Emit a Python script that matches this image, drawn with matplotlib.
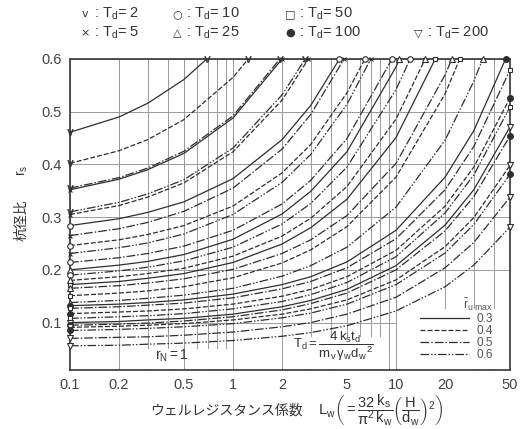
import numpy as np
import matplotlib.pyplot as plt
from matplotlib.lines import Line2D
from matplotlib.patches import Rectangle
from matplotlib.ticker import LogLocator, NullFormatter

plt.rcParams['font.family'] = ['Liberation Sans', 'Noto Sans CJK JP', 'DejaVu Sans']
plt.rcParams['mathtext.fontset'] = 'custom'
plt.rcParams['mathtext.rm'] = 'Liberation Sans'
plt.rcParams['mathtext.it'] = 'Liberation Sans'
plt.rcParams['mathtext.bf'] = 'Liberation Sans:bold'

# well resistance factor Lw where the curves are read
L_grid = [0.1, 0.2, 0.3, 0.5, 1, 2, 3, 5, 10, 20, 30, 50]

# time factor Td and allowed max excess pore pressure ratio for each curve
td = [2, 2, 2, 5, 2, 5, 10, 5, 10, 5, 10, 25, 10, 25, 50, 25, 50, 25, 100, 50,
      100, 50, 200, 100, 200, 100, 200, 200]
ru_max = [0.3, 0.4, 0.5, 0.3, 0.6, 0.4, 0.3, 0.5, 0.4, 0.6, 0.5, 0.3, 0.6, 0.4,
          0.3, 0.5, 0.4, 0.6, 0.3, 0.5, 0.4, 0.6, 0.3, 0.5, 0.4, 0.6, 0.5, 0.6]

# rs read on L_grid (row stops where the curve leaves the chart)
rs = [
    [0.461, 0.490, 0.516, 0.561],
    [0.402, 0.426, 0.447, 0.485, 0.565],
    [0.355, 0.375, 0.393, 0.425, 0.492],
    [0.352, 0.372, 0.390, 0.421, 0.488],
    [0.310, 0.328, 0.344, 0.371, 0.431, 0.532],
    [0.305, 0.322, 0.338, 0.365, 0.424, 0.522],
    [0.284, 0.297, 0.309, 0.329, 0.373, 0.447, 0.512],
    [0.265, 0.278, 0.290, 0.311, 0.355, 0.429, 0.495],
    [0.246, 0.257, 0.267, 0.284, 0.321, 0.384, 0.438, 0.536],
    [0.231, 0.242, 0.251, 0.268, 0.305, 0.366, 0.419, 0.514],
    [0.214, 0.223, 0.231, 0.245, 0.275, 0.325, 0.370, 0.449],
    [0.200, 0.209, 0.216, 0.229, 0.258, 0.306, 0.349, 0.424, 0.585],
    [0.190, 0.198, 0.205, 0.217, 0.243, 0.287, 0.326, 0.395, 0.542],
    [0.180, 0.187, 0.193, 0.203, 0.226, 0.264, 0.298, 0.358, 0.486],
    [0.172, 0.178, 0.184, 0.193, 0.214, 0.249, 0.280, 0.334, 0.451],
    [0.165, 0.170, 0.175, 0.183, 0.201, 0.231, 0.257, 0.303, 0.402, 0.570],
    [0.151, 0.156, 0.160, 0.168, 0.185, 0.213, 0.238, 0.282, 0.376, 0.534],
    [0.138, 0.142, 0.146, 0.152, 0.165, 0.188, 0.208, 0.243, 0.319, 0.446, 0.558],
    [0.132, 0.135, 0.138, 0.143, 0.154, 0.172, 0.187, 0.215, 0.275, 0.376, 0.464],
    [0.127, 0.130, 0.133, 0.137, 0.147, 0.164, 0.178, 0.204, 0.259, 0.352, 0.434, 0.579],
    [0.117, 0.120, 0.122, 0.126, 0.135, 0.150, 0.163, 0.187, 0.237, 0.321, 0.395, 0.526],
    [0.108, 0.111, 0.113, 0.117, 0.126, 0.140, 0.153, 0.176, 0.225, 0.308, 0.380, 0.509],
    [0.100, 0.102, 0.105, 0.108, 0.116, 0.130, 0.142, 0.163, 0.208, 0.285, 0.352, 0.471],
    [0.095, 0.097, 0.099, 0.103, 0.111, 0.124, 0.136, 0.156, 0.200, 0.274, 0.339, 0.454],
    [0.091, 0.093, 0.095, 0.098, 0.105, 0.116, 0.126, 0.143, 0.181, 0.244, 0.299, 0.398],
    [0.085, 0.087, 0.089, 0.092, 0.098, 0.109, 0.118, 0.135, 0.172, 0.232, 0.286, 0.381],
    [0.070, 0.072, 0.073, 0.076, 0.082, 0.092, 0.100, 0.116, 0.148, 0.204, 0.252, 0.338],
    [0.056, 0.057, 0.059, 0.061, 0.066, 0.074, 0.081, 0.094, 0.122, 0.168, 0.209, 0.281],
]
# Lw where the curve reaches rs = 0.6 (None: runs out at the right edge)
L_top = [0.69, 1.24, 1.94, 2.0, 2.77, 2.9, 4.5, 4.8, 6.45, 7.0, 9.45, 10.5, 12.2,
         15.1, 17.4, 22, 24.6, 34, 47] + [None] * 9

td_list = [2, 5, 10, 25, 50, 100, 200]
td_symbols = ['v', '×', '○', '△', '□', '●', '▽']
ru_list = [0.3, 0.4, 0.5, 0.6]

ink = '#2e2e2e'
styles = {0.3: '-', 0.4: (0, (4, 1.6)), 0.5: (0, (7, 1.6, 1.2, 1.6)),
          0.6: (0, (7, 1.5, 1.2, 1.5, 1.2, 1.5))}
marks = {2: dict(marker=r'$\mathrm{v}$', ms=4.5, mew=0.3),
         5: dict(marker='x', ms=3.5, mew=0.8),
         10: dict(marker='o', ms=4, mfc='white', mew=0.8),
         25: dict(marker='^', ms=4, mfc='white', mew=0.8),
         50: dict(marker='s', ms=3.5, mfc='white', mew=0.8),
         100: dict(marker='o', ms=4, mfc=ink),
         200: dict(marker='v', ms=4, mfc='white', mew=0.8)}

fig = plt.figure(figsize=(5.22, 4.29), dpi=100)
ax = fig.add_axes([0.134, 0.1375, 0.843, 0.725])
ax.set_xscale('log')
ax.set_xlim(0.1, 50)
ax.set_ylim(0.01, 0.6)

for i in range(len(rs)):
    xs = L_grid[:len(rs[i])]
    ys = list(rs[i])
    if L_top[i] is not None:
        xs = xs + [L_top[i]]
        ys = ys + [0.6]
    ax.plot(xs, ys, color=ink, lw=0.9, ls=styles[ru_max[i]], zorder=3)
    ax.plot([xs[0], xs[-1]], [ys[0], ys[-1]], ls='none', mec=ink, color=ink,
            clip_on=False, zorder=4, **marks[td[i]])

# grid
ax.set_xticks([0.1, 0.2, 0.5, 1, 2, 5, 10, 20, 50])
ax.set_xticklabels(['0.1', '0.2', '0.5', '1', '2', '5', '10', '20', '50'])
ax.xaxis.set_minor_locator(LogLocator(subs=np.arange(2, 10)))
ax.xaxis.set_minor_formatter(NullFormatter())
ax.set_yticks([0.1, 0.2, 0.3, 0.4, 0.5, 0.6])
ax.set_yticklabels(['0.1', '0.2', '0.3', '0.4', '0.5', '0.6'])
ax.grid(which='both', axis='x', color='#9a9a9a', lw=0.7)
ax.grid(which='major', axis='y', color='#9a9a9a', lw=0.7)
ax.set_axisbelow(True)
ax.tick_params(which='both', direction='in', colors='#444444', labelsize=10.5)
ax.tick_params(which='major', length=0, pad=6)
ax.tick_params(which='minor', length=4)
for s in ax.spines.values():
    s.set_color('#444444')
    s.set_linewidth(1.3)

# blank areas for the notes
ax.add_patch(Rectangle((0.1, 0.01), 9.9, 0.04, fc='white', ec='none', zorder=1))
ax.add_patch(Rectangle((2, 0.01), 7.1, 0.063, fc='white', ec='none', zorder=1))
ax.add_patch(Rectangle((10, 0.01), 40, 0.115, fc='white', ec='none', zorder=1))
for xv in [0.2, 0.5, 1, 2, 9, 10]:
    ax.axvline(xv, color='#9a9a9a', lw=0.7, zorder=1.2)

handles = [Line2D([], [], color=ink, lw=0.9, ls=styles[r]) for r in ru_list]
leg = ax.legend(handles, [str(r) for r in ru_list], loc='lower right',
                bbox_to_anchor=(0.985, -0.005), frameon=False, fontsize=8.5,
                labelspacing=0.0, handlelength=4.2, handletextpad=0.6,
                title=r'$\bar{\mathrm{r}}_{\mathrm{u\;max}}$', title_fontsize=9)
leg._legend_box.align = 'right'
leg.get_title().set_color('#555555')
for t in leg.get_texts():
    t.set_color('#555555')

ax.text(0.232, 0.045, r'$\mathrm{r_N}=1$', transform=ax.transAxes, fontsize=10,
        ha='center', va='center', color='#333333')
ax.text(0.6, 0.075, r'$\mathrm{T_d}=\dfrac{4\,\mathrm{k_s t_d}}{\mathrm{m_v}\,\gamma_{\mathrm{w}}\mathrm{d_w}^{\,2}}$',
        transform=ax.transAxes, fontsize=9.5, ha='center', va='center', color='#333333')

# Td symbol key above the chart
key_x = [85, 85, 177, 177, 290, 290, 418]
key_y = [14, 33, 14, 33, 14, 33, 33]
for k in range(len(td_list)):
    fig.text(key_x[k] / 522, 1 - key_y[k] / 429, td_symbols[k], fontsize=8,
             ha='center', va='center', color='#333333', family='DejaVu Sans')
    fig.text((key_x[k] + 9) / 522, 1 - key_y[k] / 429,
             r': $\mathrm{T_d}$= ' + str(td_list[k]),
             fontsize=10.5, ha='left', va='center', color='#333333')

fig.text(22 / 522, 1 - 220 / 429, '杭径比', rotation=90, fontsize=10,
         ha='center', va='center', color='#333333')
fig.text(22 / 522, 1 - 170 / 429, r'$\mathrm{r_s}$', rotation=90, fontsize=10,
         ha='center', va='center', color='#333333')
fig.text(150 / 522, 1 - 411 / 429, 'ウェルレジスタンス係数', fontsize=10,
         ha='left', va='center', color='#333333')
fig.text(318 / 522, 1 - 410 / 429,
         r'$\mathrm{L_w}\left(=\dfrac{32}{\pi^2}\dfrac{\mathrm{k_s}}{\mathrm{k_w}}\left(\dfrac{\mathrm{H}}{\mathrm{d_w}}\right)^2\right)$',
         fontsize=10.5, ha='left', va='center', color='#333333')

fig.savefig('out.png', dpi=100, facecolor='white')
